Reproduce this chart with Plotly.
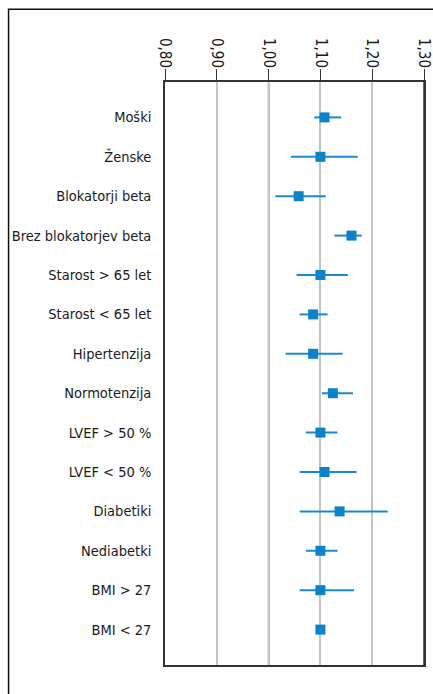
import plotly.graph_objects as go

categories = ["Moški", "Ženske", "Blokatorji beta", "Brez blokatorjev beta",
              "Starost > 65 let", "Starost < 65 let", "Hipertenzija", "Normotenzija",
              "LVEF > 50 %", "LVEF < 50 %", "Diabetiki", "Nediabetki",
              "BMI > 27", "BMI < 27"]
estimate = [1.108, 1.100, 1.058, 1.160, 1.100, 1.086, 1.086, 1.124,
            1.100, 1.108, 1.137, 1.100, 1.100, 1.100]
ci_low = [1.088, 1.043, 1.013, 1.127, 1.054, 1.060, 1.033, 1.103,
          1.072, 1.060, 1.060, 1.072, 1.060, 1.096]
ci_high = [1.140, 1.172, 1.110, 1.180, 1.153, 1.114, 1.143, 1.163,
           1.133, 1.170, 1.230, 1.133, 1.165, 1.104]
tick_vals = [0.80, 0.90, 1.00, 1.10, 1.20, 1.30]
tick_text = ["0,80", "0,90", "1,00", "1,10", "1,20", "1,30"]

FONT = "DejaVu Sans Condensed, Liberation Sans Narrow, sans-serif"
BLUE = "#0a82cc"

fig = go.Figure()
fig.add_trace(go.Scatter(
    x=estimate, y=categories, mode="markers",
    marker=dict(symbol="square", size=10, color=BLUE),
    error_x=dict(type="data", symmetric=False,
                 array=[h - e for h, e in zip(ci_high, estimate)],
                 arrayminus=[e - l for e, l in zip(estimate, ci_low)],
                 width=0, thickness=2, color="#1a8ad0"),
    showlegend=False, cliponaxis=False,
))

fig.add_shape(type="line", xref="x", yref="paper", x0=1.0, x1=1.0, y0=0, y1=1,
              line=dict(color="#444", width=1.5), layer="below")
fig.add_shape(type="line", xref="x", yref="paper", x0=1.3, x1=1.3, y0=0, y1=1,
              line=dict(color="#333", width=1.5))
fig.add_shape(type="rect", xref="paper", yref="paper",
              x0=-0.604, x1=1.2, y0=-0.2, y1=1.125,
              line=dict(color="#111", width=1.5), fillcolor="rgba(0,0,0,0)")

fig.update_layout(
    width=433, height=694,
    margin=dict(l=165, r=9, t=82, b=29, autoexpand=False),
    paper_bgcolor="white", plot_bgcolor="white",
    font=dict(family=FONT, size=14.5, color="#1a1a1a"),
    xaxis=dict(side="top", range=[0.80, 1.30], tickvals=tick_vals, ticktext=tick_text,
               tickangle=90, ticks="outside", ticklen=11, tickcolor="#333", tickwidth=1,
               showgrid=True, gridcolor="#c4c4c4", gridwidth=1.5,
               showline=True, linecolor="#333", linewidth=1.5, mirror=True,
               zeroline=False, automargin=False, ticklabelstandoff=-4,
               ticklabeloverflow="allow",
               tickfont=dict(size=15, family=FONT, color="#1a1a1a")),
    yaxis=dict(categoryorder="array", categoryarray=categories, autorange="reversed",
               range=[13.5, -0.5], showgrid=False, showline=True, linecolor="#333",
               linewidth=1.5, mirror=True, ticks="", ticklabelstandoff=9,
               automargin=False,
               tickfont=dict(size=14.5, family=FONT, color="#1a1a1a")),
)

fig.write_html(
    "out.html",
    config={"displayModeBar": False},
    post_script="document.body.style.margin='0';document.body.style.overflow='hidden';",
)
